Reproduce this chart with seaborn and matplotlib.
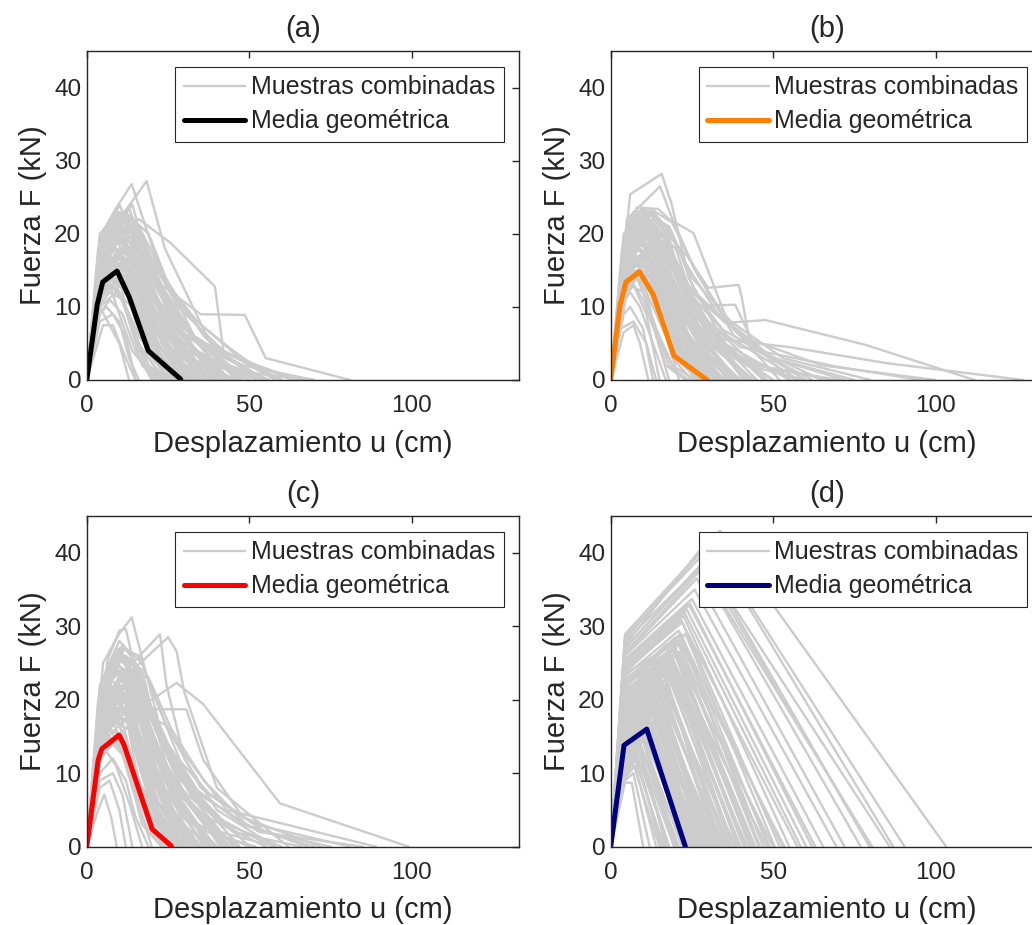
import numpy as np
import pandas as pd
import matplotlib
matplotlib.use("Agg")
import matplotlib.pyplot as plt
import seaborn as sns
from matplotlib.lines import Line2D

# ---------------- data ----------------
TITLES = ["(a)", "(b)", "(c)", "(d)"]
XLABEL = "Desplazamiento u (cm)"
YLABEL = "Fuerza F (kN)"
LEG_SAMPLES = "Muestras combinadas"
LEG_MEAN = "Media geométrica"
X_TICKS = [0, 50, 100]
Y_TICKS = [0, 10, 20, 30, 40]

# panel (a) sample curves
A_U = [
    [0, 4.5, 9, 13.8, 21, 33, 55], [0, 5, 10, 18.4, 24, 38, 58], [0, 4, 9, 14, 19, 30, 48],
    [0, 5, 10, 16, 25.6, 39.4, 42, 60], [0, 4, 8, 13, 20, 35, 48.6, 55, 81], [0, 3, 6, 11, 17, 28, 45],
    [0, 4, 7, 10, 13], [0, 5, 8, 12, 15], [0, 4.5, 10, 14, 22, 35, 50], [0, 4, 9, 14, 19, 27, 38],
    [0, 3.5, 8, 12, 17, 24, 33], [0, 5, 10, 16, 22, 32, 45], [0, 4, 8, 12, 16, 22, 28],
    [0, 4, 7, 11, 15, 20], [0, 5, 11, 16, 24, 36, 52], [0, 4, 8, 13, 20, 33, 47],
    [0, 6, 12, 18, 28, 42, 60], [0, 4.5, 9, 15, 25, 38, 56], [0, 3, 7, 12, 18, 30, 50],
    [0, 4, 9, 15, 24, 35, 43], [0, 5, 10, 14, 19, 26, 40, 65], [0, 4, 8, 13, 21, 36, 54],
    [0, 3.5, 7, 11, 16, 23, 32], [0, 4, 8, 12, 15], [0, 5, 10, 16, 22, 30, 48, 70],
    [0, 4, 9, 13, 18, 25, 35], [0, 6, 12, 17, 23, 33, 50, 68], [0, 4, 8, 14, 19, 28, 40],
    [0, 3, 6, 10, 14, 19, 24], [0, 5, 11, 17, 25, 34, 47, 63], [0, 4.5, 9, 14, 20, 29, 42],
    [0, 4, 7, 12, 17, 26, 37], [0, 5, 10, 16, 23, 31, 44], [0, 3.5, 6, 10, 13, 16],
    [0, 4, 9, 14, 20, 31, 45, 58], [0, 5, 9, 13, 18, 24], [0, 4, 8, 12, 16, 22, 30],
    [0, 6, 11, 15, 21, 30, 44, 56], [0, 4, 9, 14, 20, 30, 41], [0, 4.5, 10, 15, 21, 32, 46],
    [0, 5, 10, 14, 18, 27, 39], [0, 4, 7, 11, 16, 23, 31], [0, 6, 12, 16, 20, 25, 33, 52],
    [0, 3, 7, 10, 14, 21],
]
A_F = [
    [0, 20, 23.5, 26.8, 17, 6, 0], [0, 19, 22, 27.2, 18, 5, 0], [0, 17, 21, 24, 16, 7, 0],
    [0, 16, 20, 22, 18.8, 12.8, 4, 0], [0, 14, 18, 21, 14, 9, 8.9, 3, 0], [0, 12, 15, 17, 12, 5, 0],
    [0, 10, 7.5, 5, 0], [0, 7.5, 7.5, 3, 0], [0, 18, 24, 20, 10, 3, 0], [0, 15, 19, 16, 9, 3, 0],
    [0, 13, 16, 14, 8, 2, 0], [0, 12, 14, 11, 6, 2, 0], [0, 11, 13, 10, 5, 1, 0],
    [0, 9, 11, 9, 4, 0], [0, 20, 23, 21, 14, 6, 0], [0, 19, 22, 23.5, 15, 6, 0],
    [0, 17, 21, 18, 10, 4, 0], [0, 16, 18, 15, 9, 4, 0], [0, 14, 17, 15, 10, 5, 0],
    [0, 12, 15, 13, 8, 5, 0], [0, 18, 21, 22, 20, 12, 4, 0], [0, 13, 15, 13, 7, 3, 0],
    [0, 10, 12, 11, 6, 2, 0], [0, 8, 9, 6, 0], [0, 15, 18, 17, 12, 6, 2, 0],
    [0, 17, 20, 18, 11, 4, 0], [0, 19, 22, 19, 12, 6, 1, 0], [0, 14, 16, 14, 9, 4, 0],
    [0, 11, 13, 12, 7, 2, 0], [0, 16, 20, 19, 13, 8, 3, 0], [0, 20, 21, 17, 10, 4, 0],
    [0, 12, 14, 12, 7, 3, 0], [0, 14, 16, 15, 10, 5, 0], [0, 9, 10, 8, 3, 0],
    [0, 16, 19, 21, 16, 9, 4, 0], [0, 13, 14, 11, 6, 0], [0, 18, 20, 19, 13, 6, 0],
    [0, 21, 22, 20, 13, 7, 2, 0], [0, 10, 12, 10, 5, 2, 0], [0, 15, 17, 14, 8, 3, 0],
    [0, 17, 19, 17, 11, 5, 0], [0, 12, 13, 11, 6, 2, 0], [0, 18, 23, 21, 15, 9, 4, 0],
    [0, 11, 13, 9, 4, 0],
]
A_U_CORE = [
    [0, 4, 8, 12, 18, 26, 36], [0, 5, 9, 14, 19, 27, 39], [0, 4.5, 8, 12, 17, 23, 32],
    [0, 3.5, 7, 11, 16, 22, 30], [0, 4, 8, 13, 18, 25, 34], [0, 5, 10, 15, 20, 28, 38],
    [0, 4, 9, 13, 17, 23, 30], [0, 3, 7, 11, 15, 21, 28], [0, 4.5, 9, 13, 17, 22, 27],
    [0, 5, 10, 14, 19, 25, 33], [0, 4, 8, 11, 15, 20, 26], [0, 3.5, 7, 10, 14, 19, 25],
    [0, 4, 9, 14, 19, 26, 35], [0, 5, 11, 16, 21, 29, 40], [0, 4, 8, 12, 17, 24, 34],
    [0, 6, 11, 16, 22, 30, 42], [0, 3, 6, 10, 14, 18, 23], [0, 4.5, 9, 14, 18, 24, 31],
    [0, 5, 9, 13, 17, 22, 29], [0, 4, 7, 11, 16, 21, 27], [0, 3.5, 8, 13, 19, 27, 37],
    [0, 5, 10, 15, 21, 28, 36], [0, 4, 9, 14, 20, 29, 41], [0, 6, 12, 17, 22, 28, 35],
    [0, 4, 8, 12, 16, 21, 27], [0, 5, 9, 12, 15, 19, 24], [0, 3, 7, 12, 18, 25, 33],
    [0, 4.5, 10, 16, 23, 32, 44], [0, 4, 8, 13, 19, 28, 39], [0, 5, 10, 14, 18, 23, 28],
    [0, 4, 7, 10, 13, 17, 22], [0, 3.5, 8, 12, 16, 20, 25], [0, 5, 11, 17, 24, 33, 46],
    [0, 4, 9, 15, 22, 31, 43], [0, 6, 10, 14, 18, 22, 26], [0, 4.5, 9, 13, 18, 26, 37],
]
A_F_CORE = [
    [0, 19, 21, 20, 14, 7, 0], [0, 20, 22, 21, 15, 8, 0], [0, 18, 20, 18, 12, 5, 0],
    [0, 16, 18, 17, 11, 5, 0], [0, 15, 18, 17, 11, 5, 0], [0, 14, 17, 16, 12, 6, 0],
    [0, 12, 15, 14, 10, 4, 0], [0, 11, 14, 13, 9, 4, 0], [0, 17, 20, 18, 11, 3, 0],
    [0, 19, 22, 19, 12, 5, 0], [0, 14, 16, 14, 8, 3, 0], [0, 13, 15, 12, 7, 2, 0],
    [0, 18, 21, 20, 13, 6, 0], [0, 17, 21, 20, 14, 7, 0], [0, 13, 16, 15, 10, 5, 0],
    [0, 20, 23, 21, 14, 6, 0], [0, 10, 13, 12, 7, 2, 0], [0, 16, 19, 18, 12, 5, 0],
    [0, 15, 17, 15, 10, 4, 0], [0, 17, 19, 17, 10, 3, 0], [0, 14, 18, 17, 12, 6, 0],
    [0, 18, 20, 18, 11, 4, 0], [0, 16, 19, 18, 12, 6, 0], [0, 19, 22, 20, 13, 5, 0],
    [0, 20, 22, 19, 11, 4, 0], [0, 16, 18, 15, 9, 3, 0], [0, 12, 16, 15, 10, 4, 0],
    [0, 17, 20, 18, 12, 6, 0], [0, 11, 14, 13, 9, 4, 0], [0, 13, 15, 13, 8, 3, 0],
    [0, 15, 17, 14, 8, 2, 0], [0, 18, 21, 19, 12, 4, 0], [0, 15, 18, 17, 12, 6, 0],
    [0, 14, 17, 16, 11, 5, 0], [0, 21, 23, 20, 12, 4, 0], [0, 19, 23, 22, 15, 7, 0],
]

# panel (b) sample curves
B_U = [
    [0, 6, 15.7, 18.8, 24, 35, 55], [0, 5, 15.2, 19, 26, 38, 60], [0, 8, 14.6, 18, 25.5, 36, 52],
    [0, 7, 13, 23.5, 30, 39.4, 40.4, 42.5, 55], [0, 6, 12, 20, 26, 38.3, 45, 62],
    [0, 5, 10, 17, 25, 35.3, 47.6, 78.5, 112], [0, 4, 9, 15, 22, 35, 55, 85, 127],
    [0, 5, 11, 18, 27, 40, 70, 95.5], [0, 4, 8, 14, 20, 30, 45, 70], [0, 3, 7, 11, 14],
    [0, 4, 7, 9, 11.6], [0, 5, 8, 13, 18, 28, 40], [0, 6, 10, 16, 22, 32, 48],
    [0, 4, 9, 14, 19, 27, 38], [0, 5, 8, 12, 17, 25, 35], [0, 3.5, 7, 11, 16, 22, 30],
    [0, 6, 11, 16, 24, 36, 58], [0, 5, 9, 14, 21, 31, 50], [0, 4, 8, 13, 20, 30, 44],
    [0, 7, 12, 17, 23, 33, 46, 65], [0, 5, 10, 15, 22, 34, 50, 75], [0, 4, 7, 12, 17, 24, 33],
    [0, 6, 10, 14, 19, 26], [0, 5, 9, 13, 18, 23, 30], [0, 4.5, 8, 12, 16, 21],
    [0, 6, 12, 18, 25, 37, 53, 80], [0, 5, 10, 15, 20, 28, 42, 60], [0, 4, 8, 11, 15, 20, 27],
    [0, 7, 11, 16, 21, 29, 41], [0, 5, 9, 14, 20, 29, 45, 68], [0, 4, 7, 10, 14, 18],
    [0, 6, 10, 15, 22, 31, 43], [0, 5, 8, 12, 17, 24, 34], [0, 3, 6, 9, 13, 17],
    [0, 7, 13, 19, 26, 36, 50, 72], [0, 5, 9, 13, 19, 27, 37], [0, 4, 9, 14, 18, 24, 31],
    [0, 6, 11, 17, 23, 30, 42, 57], [0, 5, 10, 14, 17, 22, 29], [0, 8, 13, 19, 26, 40, 65, 100],
    [0, 4, 6, 10, 13], [0, 5, 7, 11, 15], [0, 6, 9, 13, 17, 22, 28],
    [0, 5, 11, 16, 21, 28, 38, 50],
]
B_F = [
    [0, 25.4, 28.2, 24, 14, 5, 0], [0, 22, 26.5, 22, 15, 6, 0], [0, 23.6, 23.4, 22, 20.1, 8, 0],
    [0, 20, 22, 17, 12.6, 13, 11.2, 5.9, 0], [0, 19, 21, 18, 10.1, 10.3, 4, 0],
    [0, 16, 19, 17, 12, 7.8, 8.2, 4.8, 0], [0, 14, 17, 15, 10, 5.5, 4.5, 2.3, 0],
    [0, 15, 18, 16, 9, 4.5, 1.8, 0], [0, 13, 15, 14, 9, 5, 2, 0], [0, 7, 8, 5, 0],
    [0, 6.5, 7.5, 5, 0], [0, 21, 23, 20, 12, 5, 0], [0, 22, 23.5, 21, 14, 6, 0],
    [0, 19, 22, 18, 11, 5, 0], [0, 18, 21, 17, 10, 4, 0], [0, 15, 17, 15, 9, 4, 0],
    [0, 20, 22, 20, 13, 6, 0], [0, 17, 20, 18, 12, 6, 0], [0, 16, 18, 16, 10, 5, 0],
    [0, 22, 23, 21, 16, 9, 4, 0], [0, 18, 21, 19, 13, 7, 3, 0], [0, 14, 16, 14, 9, 4, 0],
    [0, 20, 21, 17, 10, 0], [0, 17, 19, 16, 10, 5, 0], [0, 13, 15, 13, 8, 0],
    [0, 21, 22.5, 21, 14, 8, 3, 0], [0, 19, 21, 18, 12, 7, 2, 0], [0, 12, 14, 12, 8, 4, 0],
    [0, 22, 22.5, 20, 14, 7, 0], [0, 16, 19, 17, 11, 6, 2, 0], [0, 11, 13, 11, 6, 0],
    [0, 21, 22, 19, 12, 6, 0], [0, 15, 17, 15, 9, 4, 0], [0, 10, 12, 10, 5, 0],
    [0, 23, 23.2, 21.5, 15, 8, 3, 0], [0, 17, 18, 16, 10, 4, 0], [0, 14, 17, 15, 11, 5, 0],
    [0, 20, 22, 19, 13, 8, 3, 0], [0, 18, 20, 19, 15, 8, 0], [0, 21, 23, 20, 12, 6, 2, 0],
    [0, 9, 10, 7, 0], [0, 12, 13, 9, 0], [0, 19, 20, 17, 12, 6, 0],
    [0, 17, 20, 19, 14, 8, 3, 0],
]
B_U_CORE = [
    [0, 4, 8, 12, 17, 24, 33], [0, 5, 9, 14, 19, 27, 37], [0, 4.5, 8, 12, 16, 22, 30],
    [0, 3.5, 7, 11, 16, 22, 31], [0, 4, 8, 13, 18, 25, 35], [0, 5, 10, 15, 20, 28, 39],
    [0, 4, 9, 13, 17, 23, 31], [0, 3, 7, 11, 15, 21, 29], [0, 4.5, 9, 13, 17, 22, 28],
    [0, 5, 10, 14, 19, 25, 34], [0, 4, 8, 11, 15, 20, 27], [0, 3.5, 7, 10, 14, 19, 26],
    [0, 4, 9, 14, 19, 26, 36], [0, 5, 11, 16, 21, 29, 41], [0, 4, 8, 12, 17, 24, 35],
    [0, 6, 11, 16, 22, 30, 43], [0, 3, 6, 10, 14, 18, 24], [0, 4.5, 9, 14, 18, 24, 32],
    [0, 5, 9, 13, 17, 22, 30], [0, 4, 7, 11, 16, 21, 28], [0, 3.5, 8, 13, 19, 27, 38],
    [0, 5, 10, 15, 21, 28, 37], [0, 4, 9, 14, 20, 29, 42], [0, 6, 12, 17, 22, 28, 36],
    [0, 4, 8, 12, 16, 21, 28], [0, 5, 9, 12, 15, 19, 25], [0, 3, 7, 12, 18, 25, 34],
    [0, 4.5, 10, 16, 23, 32, 45], [0, 4, 8, 13, 19, 28, 40], [0, 5, 10, 14, 18, 23, 29],
    [0, 4, 7, 10, 13, 17, 23], [0, 3.5, 8, 12, 16, 20, 26], [0, 5, 11, 17, 24, 33, 47],
    [0, 4, 9, 15, 22, 31, 44], [0, 6, 10, 14, 18, 22, 27], [0, 4.5, 9, 13, 18, 26, 38],
]
B_F_CORE = [
    [0, 19, 22, 21, 14, 6, 0], [0, 21, 23, 21, 14, 7, 0], [0, 18, 21, 19, 12, 5, 0],
    [0, 16, 19, 18, 12, 5, 0], [0, 15, 18, 17, 11, 5, 0], [0, 14, 17, 16, 12, 6, 0],
    [0, 12, 15, 14, 10, 4, 0], [0, 11, 14, 13, 9, 4, 0], [0, 17, 21, 19, 11, 3, 0],
    [0, 20, 22.5, 20, 12, 5, 0], [0, 14, 16, 14, 8, 3, 0], [0, 13, 15, 12, 7, 2, 0],
    [0, 18, 21, 20, 13, 6, 0], [0, 17, 21, 20, 14, 7, 0], [0, 13, 16, 15, 10, 5, 0],
    [0, 20, 23, 21, 14, 6, 0], [0, 10, 13, 12, 7, 2, 0], [0, 16, 19, 18, 12, 5, 0],
    [0, 15, 17, 15, 10, 4, 0], [0, 17, 20, 18, 10, 3, 0], [0, 14, 18, 17, 12, 6, 0],
    [0, 19, 21, 19, 11, 4, 0], [0, 16, 19, 18, 12, 6, 0], [0, 21, 23, 21, 13, 5, 0],
    [0, 20, 22, 19, 11, 4, 0], [0, 16, 18, 15, 9, 3, 0], [0, 12, 16, 15, 10, 4, 0],
    [0, 17, 20, 18, 12, 6, 0], [0, 11, 14, 13, 9, 4, 0], [0, 13, 15, 13, 8, 3, 0],
    [0, 15, 17, 14, 8, 2, 0], [0, 18, 21, 19, 12, 4, 0], [0, 15, 18, 17, 12, 6, 0],
    [0, 14, 17, 16, 11, 5, 0], [0, 22, 23, 20, 12, 4, 0], [0, 19, 22, 21, 15, 7, 0],
]

# panel (c) sample curves
C_U = [
    [0, 5, 10, 13.8, 18, 25, 37, 55], [0, 6.3, 10, 12, 16, 23, 34, 50], [0, 5, 12, 22.5, 24.5, 30, 40, 58],
    [0, 5, 14, 25, 27.6, 30, 40, 62], [0, 5, 13, 20, 27.6, 35.8, 59.4, 99],
    [0, 4.5, 11, 17, 23.2, 30.6, 35.8, 48, 72], [0, 5, 11, 17, 24.1, 31, 43, 89],
    [0, 3.5, 5.4, 7.5, 9.2], [0, 4, 7, 10, 12], [0, 5, 9, 13, 18, 25, 35], [0, 4, 8, 12, 17, 24, 33],
    [0, 6, 11, 16, 22, 30, 44], [0, 5, 10, 14, 20, 28, 40], [0, 4, 9, 14, 21, 31, 46],
    [0, 5, 9, 12, 16, 21, 28], [0, 3.5, 7, 11, 15, 20], [0, 6, 12, 17, 24, 35, 52, 81],
    [0, 5, 10, 16, 23, 33, 48, 70], [0, 4.5, 8, 13, 19, 27, 38], [0, 5, 10, 15, 21, 30, 43, 60],
    [0, 6, 11, 15, 19, 25, 33], [0, 4, 7, 11, 16, 22, 30], [0, 5, 11, 17, 24, 34, 50],
    [0, 4, 8, 12, 15, 19], [0, 6, 12, 18, 26, 38, 55, 75], [0, 5, 9, 14, 20, 29, 42],
    [0, 4, 9, 13, 18, 24, 32], [0, 5, 10, 16, 22, 31, 45, 66], [0, 3, 6, 9, 13, 17],
    [0, 6, 10, 14, 18, 24, 31], [0, 5, 8, 13, 19, 27, 37, 52], [0, 4, 8, 12, 17, 23],
    [0, 5, 11, 16, 21, 29, 40, 57], [0, 4.5, 9, 14, 20, 28, 39], [0, 6, 13, 19, 26, 36, 49, 68],
    [0, 5, 9, 12, 15, 20, 26], [0, 4, 8, 11, 14], [0, 5, 10, 14, 19, 26, 36, 47],
    [0, 5, 12, 18, 25, 35, 53, 85], [0, 4, 7, 10, 14, 18, 24], [0, 6, 11, 16, 23, 32, 42],
    [0, 5, 9, 15, 21, 30, 41, 58], [0, 4, 9, 14, 19, 25, 34], [0, 5, 10, 13, 17, 22, 29],
]
C_F = [
    [0, 25, 29, 31.2, 24, 12, 4, 0], [0, 25.3, 29.4, 29.6, 22, 10, 3, 0], [0, 20, 24, 28.9, 22, 12, 5, 0],
    [0, 18, 24, 28.5, 26.6, 21, 8, 0], [0, 15, 19, 20, 22.3, 19.4, 5.9, 0],
    [0, 14, 17, 18.7, 18.7, 18.7, 11.8, 4, 0], [0, 16, 19, 18, 16.6, 12, 5, 0],
    [0, 5, 7.1, 4, 0], [0, 8, 9, 5, 0], [0, 22, 25, 23, 15, 6, 0], [0, 20, 24, 22, 14, 5, 0],
    [0, 21, 26, 24, 16, 7, 0], [0, 18, 22, 21, 14, 6, 0], [0, 16, 20, 19, 13, 6, 0],
    [0, 17, 20, 18, 11, 4, 0], [0, 12, 15, 13, 7, 0], [0, 24, 27, 25, 17, 8, 3, 0],
    [0, 19, 23, 22, 15, 8, 3, 0], [0, 14, 17, 16, 10, 4, 0], [0, 22, 26, 25, 17, 9, 3, 0],
    [0, 23, 27.5, 25, 16, 8, 0], [0, 13, 16, 15, 9, 4, 0], [0, 20, 23, 21, 14, 7, 0],
    [0, 10, 12, 9, 4, 0], [0, 17, 20, 19, 13, 7, 2, 0], [0, 21, 25, 23, 15, 7, 0],
    [0, 18, 21, 19, 12, 5, 0], [0, 16, 19, 18, 12, 7, 2, 0], [0, 11, 13, 11, 6, 0],
    [0, 24, 28, 26, 18, 8, 0], [0, 15, 18, 17, 11, 6, 2, 0], [0, 12, 14, 12, 7, 0],
    [0, 23, 26, 24, 17, 9, 4, 0], [0, 19, 22, 20, 13, 6, 0], [0, 20, 24, 23, 16, 9, 3, 0],
    [0, 15, 17, 15, 10, 4, 0], [0, 9, 10, 7, 0], [0, 22, 25.5, 24, 17, 9, 3, 0],
    [0, 18, 22, 21, 14, 7, 2, 0], [0, 14, 16, 14, 10, 5, 0], [0, 24, 27, 26, 18, 8, 0],
    [0, 17, 21, 20, 14, 7, 2, 0], [0, 16, 19, 17, 11, 5, 0], [0, 21, 24, 22, 16, 8, 0],
]
C_U_CORE = [
    [0, 4, 8, 12, 17, 24, 33], [0, 5, 9, 14, 19, 27, 37], [0, 4.5, 8, 12, 16, 22, 30],
    [0, 3.5, 7, 11, 16, 22, 31], [0, 4, 8, 13, 18, 25, 35], [0, 5, 10, 15, 20, 28, 39],
    [0, 4, 9, 13, 17, 23, 31], [0, 3, 7, 11, 15, 21, 29], [0, 4.5, 9, 13, 17, 22, 28],
    [0, 5, 10, 14, 19, 25, 34], [0, 4, 8, 11, 15, 20, 27], [0, 3.5, 7, 10, 14, 19, 26],
    [0, 4, 9, 14, 19, 26, 36], [0, 5, 11, 16, 21, 29, 41], [0, 4, 8, 12, 17, 24, 35],
    [0, 6, 11, 16, 22, 30, 43], [0, 3, 6, 10, 14, 18, 24], [0, 4.5, 9, 14, 18, 24, 32],
    [0, 5, 9, 13, 17, 22, 30], [0, 4, 7, 11, 16, 21, 28], [0, 3.5, 8, 13, 19, 27, 38],
    [0, 5, 10, 15, 21, 28, 37], [0, 4, 9, 14, 20, 29, 42], [0, 6, 12, 17, 22, 28, 36],
    [0, 4, 8, 12, 16, 21, 28], [0, 5, 9, 12, 15, 19, 25], [0, 3, 7, 12, 18, 25, 34],
    [0, 4.5, 10, 16, 23, 32, 45], [0, 4, 8, 13, 19, 28, 40], [0, 5, 10, 14, 18, 23, 29],
    [0, 4, 7, 10, 13, 17, 23], [0, 3.5, 8, 12, 16, 20, 26], [0, 5, 11, 17, 24, 33, 47],
    [0, 4, 9, 15, 22, 31, 44], [0, 6, 10, 14, 18, 22, 27], [0, 4.5, 9, 13, 18, 26, 38],
]
C_F_CORE = [
    [0, 21, 25, 24, 16, 7, 0], [0, 23, 27, 25, 17, 8, 0], [0, 20, 24, 22, 14, 6, 0],
    [0, 18, 22, 21, 14, 6, 0], [0, 17, 21, 20, 13, 6, 0], [0, 16, 20, 19, 14, 7, 0],
    [0, 14, 18, 17, 12, 5, 0], [0, 12, 16, 15, 10, 4, 0], [0, 19, 24, 22, 13, 4, 0],
    [0, 22, 26, 23, 14, 6, 0], [0, 16, 19, 17, 10, 4, 0], [0, 15, 18, 15, 9, 3, 0],
    [0, 20, 24, 23, 15, 7, 0], [0, 19, 24, 23, 16, 8, 0], [0, 15, 19, 18, 12, 6, 0],
    [0, 22, 26, 24, 16, 7, 0], [0, 11, 15, 14, 8, 3, 0], [0, 18, 22, 21, 14, 6, 0],
    [0, 17, 20, 18, 12, 5, 0], [0, 19, 23, 21, 12, 4, 0], [0, 16, 21, 20, 14, 7, 0],
    [0, 21, 24, 22, 13, 5, 0], [0, 18, 22, 21, 14, 7, 0], [0, 23, 26, 24, 15, 6, 0],
    [0, 22, 25, 22, 13, 5, 0], [0, 18, 21, 18, 11, 4, 0], [0, 14, 19, 18, 12, 5, 0],
    [0, 19, 23, 21, 14, 7, 0], [0, 13, 17, 16, 11, 5, 0], [0, 15, 18, 16, 10, 4, 0],
    [0, 17, 20, 17, 10, 3, 0], [0, 20, 24, 22, 14, 5, 0], [0, 17, 21, 20, 14, 7, 0],
    [0, 16, 20, 19, 13, 6, 0], [0, 24, 27, 23, 14, 5, 0], [0, 21, 26, 25, 17, 8, 0],
]

# panel (d) sample curves: (0,0) -> (kink, Y1) -> (X2, Y2) -> (X3, 0)
D_Y1 = [28.9, 28.2, 27.4, 26.9, 26.4, 26.0, 25.5, 24.6, 23.9, 23.2, 22.3, 22.0, 21.6, 21.0, 20.5,
        20.0, 19.6, 19.0, 18.6, 18.0, 17.5, 17.0, 16.5, 16.0, 15.5, 15.0, 14.5, 14.0, 13.5, 13.0,
        12.5, 12.0, 11.5, 11.0, 10.5, 10.0, 9.5, 9.0, 8.7, 21.8, 20.8, 19.3, 18.3, 17.2, 16.2,
        15.2, 14.2, 13.2, 12.2, 20.2, 19.8, 18.8, 17.8, 16.8, 15.8, 14.8, 13.8, 12.8, 11.8, 10.8,
        27.9, 25.0, 24.0, 23.5, 22.6,
        22.8, 22.1, 21.3, 20.7, 20.3, 19.9, 19.1, 18.4, 17.9, 17.3, 16.7, 16.3, 15.7, 15.3, 14.7,
        14.3, 13.7, 13.3, 12.7, 12.3, 11.7, 11.3, 10.7, 10.3, 9.7, 9.3, 22.5, 21.2, 20.1, 19.4,
        18.1, 17.1, 16.1, 15.1, 14.1, 13.1, 12.1, 11.1, 10.1, 24.3, 23.7, 25.2, 26.2, 27.1, 28.5]
D_X2 = [33.6, 30.5, 27.0, 29.0, 28.0, 25.8, 25.0, 23.4, 22.4, 20.9, 19.4, 18.4, 21.5, 19.0, 17.5,
        16.5, 20.0, 15.5, 18.0, 14.1, 16.0, 13.0, 15.0, 12.0, 14.0, 11.0, 13.0, 10.5, 12.0, 9.5,
        11.0, 9.0, 10.0, 8.5, 9.0, 8.0, 7.5, 7.0, 6.5, 17.0, 15.0, 13.5, 12.5, 11.5, 10.5,
        9.5, 8.5, 7.5, 7.0, 22.0, 23.0, 21.0, 19.5, 18.5, 17.0, 16.0, 15.0, 13.5, 12.5, 11.5,
        28.5, 24.0, 22.0, 21.0, 20.0,
        20.5, 19.8, 18.8, 18.2, 17.8, 17.2, 16.8, 16.2, 15.5, 15.0, 14.5, 14.0, 13.5, 13.0, 12.5,
        12.0, 11.5, 11.0, 10.5, 10.0, 9.5, 9.0, 8.5, 8.0, 7.5, 7.2, 21.8, 19.5, 18.5, 17.8,
        16.5, 15.5, 14.5, 13.5, 12.5, 11.5, 10.5, 9.5, 8.8, 22.8, 21.8, 24.5, 26.5, 27.5, 31.0]
D_Y2 = [43.0, 41.5, 40.1, 39.0, 37.8, 35.0, 33.7, 32.3, 31.4, 29.4, 26.9, 26.0, 29.0, 27.0, 25.5,
        24.0, 26.5, 23.0, 24.5, 20.0, 22.0, 19.5, 21.0, 18.5, 20.0, 17.5, 18.0, 16.0, 17.0, 15.0,
        16.0, 14.0, 15.0, 13.0, 13.5, 12.0, 11.0, 10.0, 8.7, 27.5, 25.0, 22.5, 21.5, 20.5, 19.0,
        18.0, 16.5, 15.0, 13.5, 28.0, 29.0, 26.5, 25.0, 23.5, 22.0, 21.0, 19.5, 18.5, 17.0, 15.5,
        38.5, 33.0, 30.5, 28.0, 28.5,
        28.0, 27.3, 26.0, 25.6, 25.2, 24.7, 24.2, 23.6, 22.6, 22.0, 21.5, 20.8, 20.2, 19.7, 19.0,
        18.3, 17.8, 17.2, 16.5, 15.8, 15.0, 14.2, 13.4, 12.6, 11.8, 11.0, 28.8, 26.8, 25.5, 24.8,
        23.2, 22.2, 21.2, 20.0, 19.0, 17.8, 16.8, 15.3, 13.8, 31.8, 30.8, 33.0, 36.5, 38.0, 41.0]
D_X3 = [103.3, 90.5, 85.9, 79.7, 80.5, 69.5, 65.4, 60.2, 55.0, 53.0, 50.0, 48.0, 45.9, 42.8, 37.7,
        32.6, 44.0, 36.0, 40.0, 32.6, 38.5, 30.0, 35.0, 28.0, 33.5, 26.0, 31.0, 24.0, 29.0, 22.0,
        27.0, 20.0, 25.0, 18.0, 23.0, 16.0, 14.0, 12.0, 10.0, 41.0, 34.5, 30.5, 28.5, 26.5, 24.5,
        22.5, 20.0, 17.5, 15.5, 47.0, 50.5, 46.0, 43.5, 39.5, 36.5, 34.0, 32.0, 29.5, 27.0, 24.5,
        80.0, 63.0, 57.5, 53.5, 49.0,
        45.5, 43.0, 41.5, 39.0, 42.0, 37.0, 38.0, 35.5, 33.0, 34.5, 31.5, 30.0, 31.5, 28.5, 27.5,
        30.0, 26.0, 25.0, 27.5, 23.5, 22.0, 21.0, 19.5, 18.0, 16.5, 15.0, 48.5, 44.5, 41.0, 39.5,
        36.0, 33.5, 31.5, 29.5, 27.0, 25.5, 22.5, 20.5, 17.0, 58.5, 52.0, 62.0, 72.0, 77.0, 87.0]
D_KINK_U = 4.4  # displacement of the first kink, common to all (d) samples

# geometric-mean curves
A_MEAN_U = [0, 3.2, 4.9, 9.3, 13.0, 18.9, 28.9]
A_MEAN_F = [0, 10.3, 13.4, 14.9, 11.4, 4.0, 0.1]
B_MEAN_U = [0, 2.9, 4.7, 8.8, 13.1, 19.5, 29.7]
B_MEAN_F = [0, 10.3, 13.4, 14.8, 11.7, 3.3, 0.0]
C_MEAN_U = [0, 3.5, 4.6, 9.9, 11.4, 20.1, 26.0]
C_MEAN_F = [0, 11.8, 13.3, 15.2, 13.9, 2.4, 0.1]
D_MEAN_U = [0, 4.1, 11.1, 23.0]
D_MEAN_F = [0, 13.8, 16.0, 0.0]

MEAN_COLORS = ["#000000", "#FF7F00", "#FF0000", "#00007F"]
GREY = "#CCCCCC"
TXT = "#262626"


def long_frame(us, fs):
    rows = []
    for i, (u, f) in enumerate(zip(us, fs)):
        for a, b in zip(u, f):
            rows.append((i, a, b))
    return pd.DataFrame(rows, columns=["id", "u", "F"])


D_U = [[0, D_KINK_U, x2, x3] for x2, x3 in zip(D_X2, D_X3)]
D_F = [[0, y1, y2, 0] for y1, y2 in zip(D_Y1, D_Y2)]

samples = [long_frame(A_U + A_U_CORE, A_F + A_F_CORE),
           long_frame(B_U + B_U_CORE, B_F + B_F_CORE),
           long_frame(C_U + C_U_CORE, C_F + C_F_CORE),
           long_frame(D_U, D_F)]
means = [(A_MEAN_U, A_MEAN_F), (B_MEAN_U, B_MEAN_F), (C_MEAN_U, C_MEAN_F), (D_MEAN_U, D_MEAN_F)]

# ---------------- figure ----------------
sns.set_theme(style="white")
plt.rcParams["font.family"] = ["Liberation Sans", "DejaVu Sans"]
plt.rcParams["axes.edgecolor"] = TXT
plt.rcParams["text.color"] = TXT
plt.rcParams["axes.labelcolor"] = TXT

W, H = 1032, 925
fig = plt.figure(figsize=(W / 100, H / 100), dpi=100)
boxes = [
    (86.8, 51, 432.5, 329),
    (610.7, 51, 432, 329),
    (86.8, 516, 432.5, 330.7),
    (610.7, 516, 432, 330.7),
]

for k in range(4):
    l, t, w, h = boxes[k]
    ax = fig.add_axes([l / W, 1 - (t + h) / H, w / W, h / H])
    sns.lineplot(data=samples[k], x="u", y="F", units="id", estimator=None, sort=False,
                 color=GREY, linewidth=1.7, ax=ax, legend=False)
    mu, mf = means[k]
    sns.lineplot(x=mu, y=mf, sort=False, color=MEAN_COLORS[k], linewidth=3.6, ax=ax,
                 legend=False)
    ax.set_xlim(0, 133)
    ax.set_ylim(0, 45)
    ax.set_xticks(X_TICKS)
    ax.set_yticks(Y_TICKS)
    ax.tick_params(axis="both", direction="in", top=True, right=True, length=5, width=1.0,
                   colors=TXT, labelsize=17.5)
    ax.tick_params(axis="x", pad=11)
    ax.tick_params(axis="y", pad=4)
    for s in ax.spines.values():
        s.set_color(TXT)
        s.set_linewidth(1.0)
    ax.set_xlabel(XLABEL, fontsize=21, labelpad=9)
    ax.set_ylabel(YLABEL, fontsize=21, labelpad=5)
    ax.set_title(TITLES[k], fontsize=21, pad=10)
    handles = [Line2D([], [], color=GREY, linewidth=1.7),
               Line2D([], [], color=MEAN_COLORS[k], linewidth=3.6)]
    leg = ax.legend(handles, [LEG_SAMPLES, LEG_MEAN], loc="upper right", fontsize=18,
                    frameon=True, fancybox=False, edgecolor=TXT, framealpha=1,
                    borderaxespad=0.62, handlelength=2.45, handletextpad=0.22,
                    borderpad=0.35, labelspacing=0.4)
    leg.get_frame().set_linewidth(0.8)

fig.savefig("out.png", dpi=100)
